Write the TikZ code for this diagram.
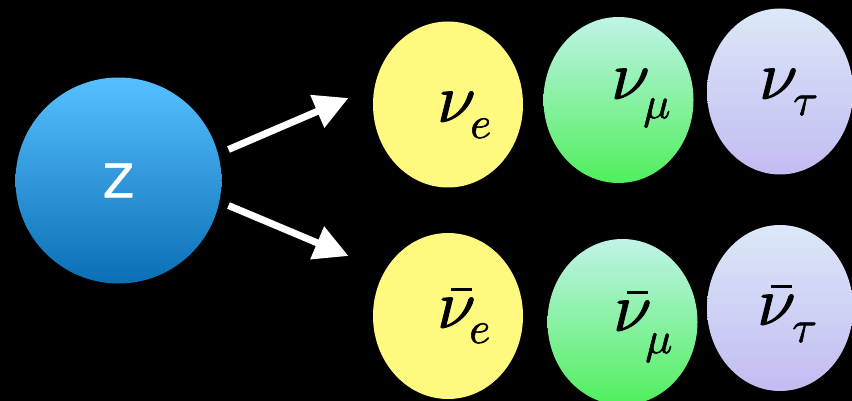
\documentclass[tikz,border=0pt]{standalone}
\usepackage{fontspec}
\usepackage{unicode-math}
\setmathfont{Latin Modern Math}[FakeBold=1.3]
\newfontfamily\zfont{DejaVu Sans}[FakeBold=1.2]
\usetikzlibrary{arrows.meta,shapes.geometric}
\definecolor{bluetop}{RGB}{86,192,255}
\definecolor{bluebot}{RGB}{10,111,181}
\definecolor{yell}{RGB}{255,250,127}
\definecolor{greentop}{RGB}{192,243,232}
\definecolor{greenbot}{RGB}{80,239,92}
\definecolor{lavtop}{RGB}{220,232,248}
\definecolor{lavbot}{RGB}{194,188,242}
\newcommand{\nuglyph}{$\nu$}
\newcommand{\nubarglyph}{\rlap{\hspace{14pt}\rule[37pt]{21pt}{3.5pt}}$\nu$}
\newcommand{\subtext}[1]{\fontsize{45}{45}\selectfont$#1$}
\tikzset{
  particle/.style={ellipse, inner sep=0pt, minimum width=150pt, minimum height=166pt},
  yellowball/.style={particle, fill=yell},
  greenball/.style={particle, top color=greentop, bottom color=greenbot},
  lavball/.style={particle, minimum width=146pt, top color=lavtop, bottom color=lavbot},
  nulabel/.style={anchor=base west, inner sep=0pt, text=black, font=\fontsize{69}{69}\selectfont},
  bigarrow/.style={draw=white, line width=7pt, -{Triangle[length=34pt,width=34pt]}, fill=white}
}
\begin{document}
\begin{tikzpicture}[x=1pt,y=-1pt]
\useasboundingbox (0,0) rectangle (852,401);
\fill[black] (0,0) rectangle (852,401);
% Z boson
\node[circle, inner sep=0pt, minimum size=206pt, top color=bluetop, bottom color=bluebot,
      text=white, font=\zfont\fontsize{46}{46}\selectfont] (z) at (118.5,180.5) {Z};
% neutrinos
\node[yellowball] (nue) at (448,104.5) {};
\node[greenball] (numu) at (618.5,100) {};
\node[lavball] (nutau) at (780,91.5) {};
\node[yellowball] (anue) at (448,316) {};
\node[greenball] (anumu) at (622.5,322) {};
\node[lavball] (anutau) at (780,308) {};
% labels
\node[nulabel] (lnue) at (437,122) {\nuglyph\kern-5pt\raisebox{-16pt}{\subtext{e}}};
\node[nulabel] (lnumu) at (611,99) {\nuglyph\kern-6pt\raisebox{-19pt}{\subtext{\mu}}};
\node[nulabel] (lnutau) at (759,99) {\nuglyph\kern-4pt\raisebox{-16pt}{\subtext{\tau}}};
\node[nulabel] (lanue) at (437,328) {\nubarglyph\kern-6pt\raisebox{-15pt}{\subtext{e}}};
\node[nulabel] (lanumu) at (613,331) {\nubarglyph\kern-6pt\raisebox{-22pt}{\subtext{\mu}}};
\node[nulabel] (lanutau) at (757,325) {\nubarglyph\kern-3pt\raisebox{-17pt}{\subtext{\tau}}};
% arrows
\coordinate (a1s) at (228.5,149.5);
\coordinate (a1e) at (348.5,98);
\coordinate (a2s) at (228.5,205.5);
\coordinate (a2e) at (348.5,256);
\draw[bigarrow] (a1s) -- (a1e);
\draw[bigarrow] (a2s) -- (a2e);
\end{tikzpicture}
\end{document}
